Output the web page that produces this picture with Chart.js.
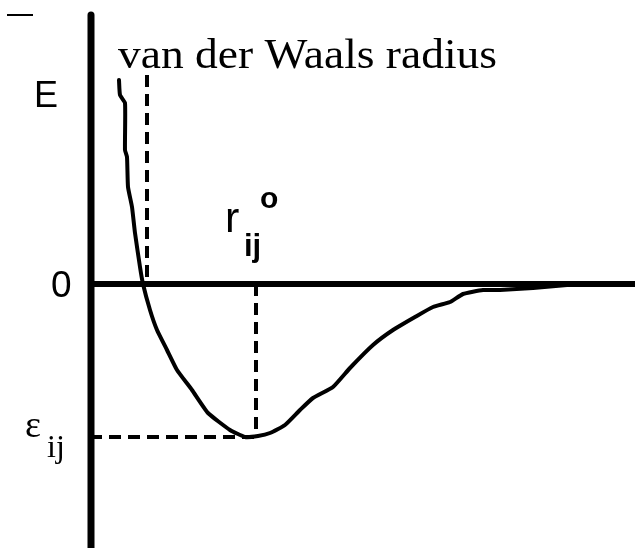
<!DOCTYPE html>
<html>
<head>
<meta charset="utf-8">
<script src="https://cdn.jsdelivr.net/npm/chart.js@4/dist/chart.umd.min.js"></script>
<style>
  html, body { margin: 0; padding: 0; background: #fff; }
  canvas { display: block; }
</style>
</head>
<body>
<canvas id="cht" width="635" height="548"></canvas>
<script>
"use strict";

// interatomic distance r (arbitrary units, origin at the E axis)
var rValues = [28, 29, 34, 34, 36, 37, 41, 44, 49, 52, 59, 66, 76, 86, 101, 117, 139, 154, 167, 179, 194, 209, 222, 242, 259, 282, 302, 324, 342, 359, 372, 392, 409, 442, 476, 509, 544];
// potential energy E at each r
var eValues = [204, 189, 181, 134, 127, 97, 77, 51, 17, 0, -26, -46, -66, -86, -106, -129, -146, -153, -152, -149, -141, -126, -114, -103, -84, -61, -46, -33, -23, -18, -10, -6, -6, -4, -1, 1, 1];

var rMin = 165;        // r_ij^o
var eMin = -153;       // epsilon_ij
var rVdw = 56;         // van der Waals radius
var rRange = [-91, 544];
var eRange = [-264, 284];

var SERIF = '"Liberation Serif", "Times New Roman", serif';
var SANS = '"Liberation Sans", Arial, sans-serif';

function pts(rs, es) {
	var out = [];
	for (var i = 0; i < rs.length; i++) out.push({x: rs[i], y: es[i]});
	return out;
}

function lineSet(data, width, dash, cap, tension) {
	return {
		data: data,
		borderColor: '#000',
		borderWidth: width,
		borderDash: dash || [],
		borderCapStyle: cap || 'butt',
		borderJoinStyle: 'round',
		pointRadius: 0,
		fill: false,
		tension: tension || 0,
		clip: false
	};
}

// text labels, placed in data coordinates
var labels = [
	{t: 'van der Waals radius', r: 27, e: 216, font: '43px ' + SERIF, w: 379},
	{t: 'E', r: -57, e: 177, font: '36px ' + SANS},
	{t: '0', r: -40, e: -13, font: '37px ' + SANS},
	{t: 'r', r: 134, e: 52, font: '43px ' + SANS},
	{t: 'ij', r: 153, e: 28, font: 'bold 31px ' + SANS},
	{t: 'o', r: 169, e: 76, font: 'bold 30px ' + SANS},
	{t: '\u03b5', r: -66, e: -153, font: '38px ' + SERIF},
	{t: 'ij', r: -44, e: -173, font: '32px ' + SERIF}
];

var textPlugin = {
	id: 'textLabels',
	afterDatasetsDraw: function (chart) {
		var ctx = chart.ctx;
		var xs = chart.scales.x, ys = chart.scales.y;
		ctx.save();
		ctx.fillStyle = '#000';
		ctx.textBaseline = 'alphabetic';
		ctx.textAlign = 'left';
		for (var i = 0; i < labels.length; i++) {
			var l = labels[i];
			var px = xs.getPixelForValue(l.r);
			var py = ys.getPixelForValue(l.e);
			ctx.font = l.font;
			if (l.w) {
				var m = ctx.measureText(l.t).width;
				ctx.save();
				ctx.translate(px, py);
				ctx.scale(l.w / m, 1);
				ctx.fillText(l.t, 0, 0);
				ctx.restore();
			} else {
				ctx.fillText(l.t, px, py);
			}
		}
		ctx.restore();
	}
};

var chart = new Chart(document.getElementById('cht').getContext('2d'), {
	type: 'line',
	data: {
		datasets: [
			lineSet([{x: -84, y: 269}, {x: -58, y: 269}], 2),
			lineSet([{x: 0, y: 269}, {x: 0, y: eRange[0]}], 7, null, 'round'),
			lineSet([{x: 0, y: 0}, {x: rRange[1], y: 0}], 6),
			lineSet([{x: rVdw, y: 209}, {x: rVdw, y: 0}], 4, [12, 7]),
			lineSet([{x: rMin, y: 0}, {x: rMin, y: eMin}], 4, [12, 7]),
			lineSet([{x: -1, y: eMin}, {x: rMin, y: eMin}], 4, [12, 7]),
			lineSet(pts(rValues, eValues), 4, null, 'round', 0.15)
		]
	},
	options: {
		responsive: false,
		animation: false,
		layout: {padding: 0},
		plugins: {legend: {display: false}, tooltip: {enabled: false}},
		scales: {
			x: {type: 'linear', display: false, min: rRange[0], max: rRange[1]},
			y: {type: 'linear', display: false, min: eRange[0], max: eRange[1]}
		}
	},
	plugins: [textPlugin]
});
</script>
</body>
</html>
